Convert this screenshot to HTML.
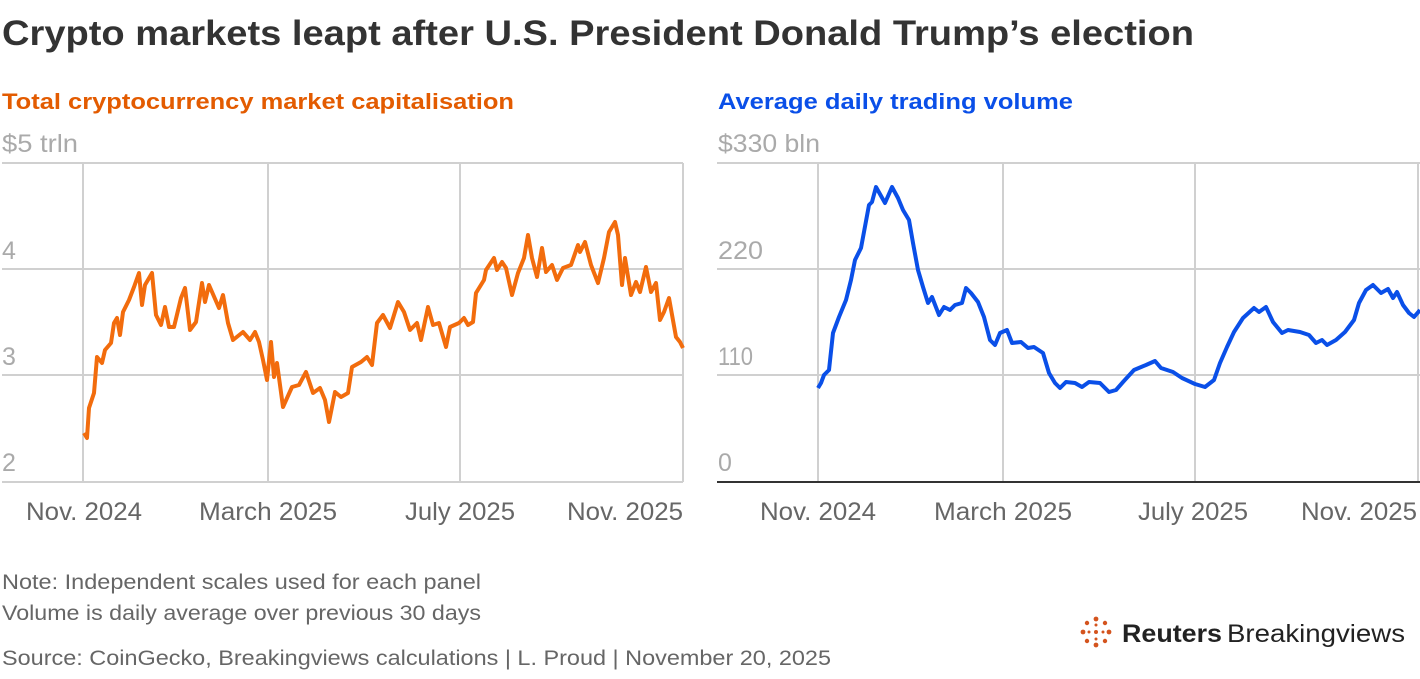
<!DOCTYPE html>
<html><head><meta charset="utf-8"><style>
body{margin:0;background:#fff;width:1420px;height:674px;overflow:hidden;font-family:"Liberation Sans",sans-serif}
svg text{font-family:"Liberation Sans",sans-serif}
</style></head><body>
<svg width="1420" height="674" viewBox="0 0 1420 674" xmlns="http://www.w3.org/2000/svg">
<text x="2" y="45" font-size="35" font-weight="bold" fill="#333" textLength="1192" lengthAdjust="spacingAndGlyphs">Crypto markets leapt after U.S. President Donald Trump’s election</text>
<text x="2" y="109" font-size="22" font-weight="bold" fill="#e35b00" textLength="512" lengthAdjust="spacingAndGlyphs">Total cryptocurrency market capitalisation</text>
<text x="718" y="109" font-size="22" font-weight="bold" fill="#0a4fe8" textLength="355" lengthAdjust="spacingAndGlyphs">Average daily trading volume</text>
<g font-size="25" fill="#aaa">
<text x="2" y="152" textLength="76" lengthAdjust="spacingAndGlyphs">$5 trln</text><text x="2" y="259">4</text><text x="2" y="365">3</text><text x="2" y="471">2</text>
<text x="718" y="152" textLength="102" lengthAdjust="spacingAndGlyphs">$330 bln</text><text x="718" y="259" textLength="45" lengthAdjust="spacingAndGlyphs">220</text><text x="718" y="365" textLength="35" lengthAdjust="spacingAndGlyphs">110</text><text x="718" y="471">0</text>
</g>
<g stroke="#d0d0d0" stroke-width="2" fill="none">
<path d="M2 163H683M2 269H683M2 375H683M2 482H683M83 163V482M268 163V482M460 163V482M683 163V482"/>
<path d="M717 163H1420M717 269H1420M717 375H1420M818 163V482M1003 163V482M1195 163V482M1418 163V482"/>
</g>
<path d="M717 482H1420" stroke="#333" stroke-width="2"/>
<g font-size="25" fill="#666" text-anchor="middle">
<text x="84" y="520" textLength="116" lengthAdjust="spacingAndGlyphs">Nov. 2024</text><text x="268" y="520" textLength="138" lengthAdjust="spacingAndGlyphs">March 2025</text><text x="460" y="520" textLength="110" lengthAdjust="spacingAndGlyphs">July 2025</text><text x="625" y="520" textLength="116" lengthAdjust="spacingAndGlyphs">Nov. 2025</text>
<text x="818" y="520" textLength="116" lengthAdjust="spacingAndGlyphs">Nov. 2024</text><text x="1003" y="520" textLength="138" lengthAdjust="spacingAndGlyphs">March 2025</text><text x="1193" y="520" textLength="110" lengthAdjust="spacingAndGlyphs">July 2025</text><text x="1359" y="520" textLength="116" lengthAdjust="spacingAndGlyphs">Nov. 2025</text>
</g>
<polyline fill="none" stroke="#f26c0d" stroke-width="4" stroke-linejoin="round" points="84,433 87,438 89,408 94,393 97,357 102,363 105,350 111,343 114,323 117,318 120,335 123,312 129,300 134,287 139,273 142,305 145,285 152,273 156,315 161,325 165,307 169,327 174,327 181,298 185,288 190,330 196,322 202,283 205,302 209,285 219,308 223,295 228,323 233,340 243,332 250,340 255,332 259,342 263,360 267,380 271,342 274,377 277,363 283,407 292,387 299,385 306,372 313,393 320,388 325,400 329,422 335,392 341,397 348,393 352,367 361,362 367,357 372,365 377,323 383,315 390,328 398,302 404,312 410,330 417,323 421,340 428,307 433,325 439,323 446,347 450,327 459,323 464,318 468,325 473,322 476,293 484,280 486,270 494,258 497,270 502,262 506,268 512,295 518,273 524,258 528,235 532,258 537,277 542,248 546,272 552,265 557,280 563,268 571,265 578,245 580,252 585,242 591,265 598,283 604,258 609,232 615,222 618,235 622,285 625,258 631,295 636,282 640,292 646,267 651,292 656,283 660,320 664,312 669,298 676,337 680,342 683,348"/>
<polyline fill="none" stroke="#0a4fe8" stroke-width="4" stroke-linejoin="round" points="818,388 821,383 824,375 829,370 833,333 839,317 846,300 851,280 855,260 861,248 869,205 872,202 876,187 885,203 892,187 898,198 903,210 909,220 913,243 918,270 923,287 928,303 932,297 939,315 944,307 950,310 955,305 962,303 966,288 971,293 978,302 984,317 990,340 995,345 1000,333 1007,330 1012,343 1021,342 1028,348 1034,347 1043,353 1049,373 1055,383 1060,388 1066,382 1075,383 1082,387 1089,382 1100,383 1109,392 1116,390 1123,382 1134,370 1146,365 1155,361 1161,368 1173,372 1182,378 1195,384 1205,387 1214,380 1220,363 1227,347 1234,332 1243,318 1254,308 1259,312 1266,307 1273,322 1282,333 1288,330 1300,332 1309,335 1316,343 1322,340 1327,345 1336,340 1345,332 1354,320 1359,303 1366,290 1373,285 1381,293 1388,289 1393,298 1397,292 1403,305 1409,313 1414,317 1420,310"/>
<g font-size="21" fill="#666">
<text x="2" y="589" textLength="479" lengthAdjust="spacingAndGlyphs">Note: Independent scales used for each panel</text>
<text x="2" y="620" textLength="479" lengthAdjust="spacingAndGlyphs">Volume is daily average over previous 30 days</text>
<text x="2" y="665" textLength="829" lengthAdjust="spacingAndGlyphs">Source: CoinGecko, Breakingviews calculations | L. Proud | November 20, 2025</text>
</g>
<g fill="#d4541e">
<circle cx="1096" cy="632" r="2"/><circle cx="1096" cy="619" r="2.4"/><circle cx="1096" cy="645" r="2.4"/><circle cx="1083" cy="632" r="2.4"/><circle cx="1109" cy="632" r="2.4"/>
<circle cx="1087" cy="623" r="2.2"/><circle cx="1105" cy="623" r="2.2"/><circle cx="1087" cy="641" r="2.2"/><circle cx="1105" cy="641" r="2.2"/>
<circle cx="1096" cy="625" r="1.5"/><circle cx="1096" cy="639" r="1.5"/><circle cx="1089" cy="632" r="1.5"/><circle cx="1103" cy="632" r="1.5"/>
</g>
<text x="1122" y="642" font-size="25" font-weight="bold" fill="#222" textLength="100" lengthAdjust="spacingAndGlyphs">Reuters</text>
<text x="1227" y="642" font-size="25" fill="#222" textLength="178" lengthAdjust="spacingAndGlyphs">Breakingviews</text>
</svg>
</body></html>
